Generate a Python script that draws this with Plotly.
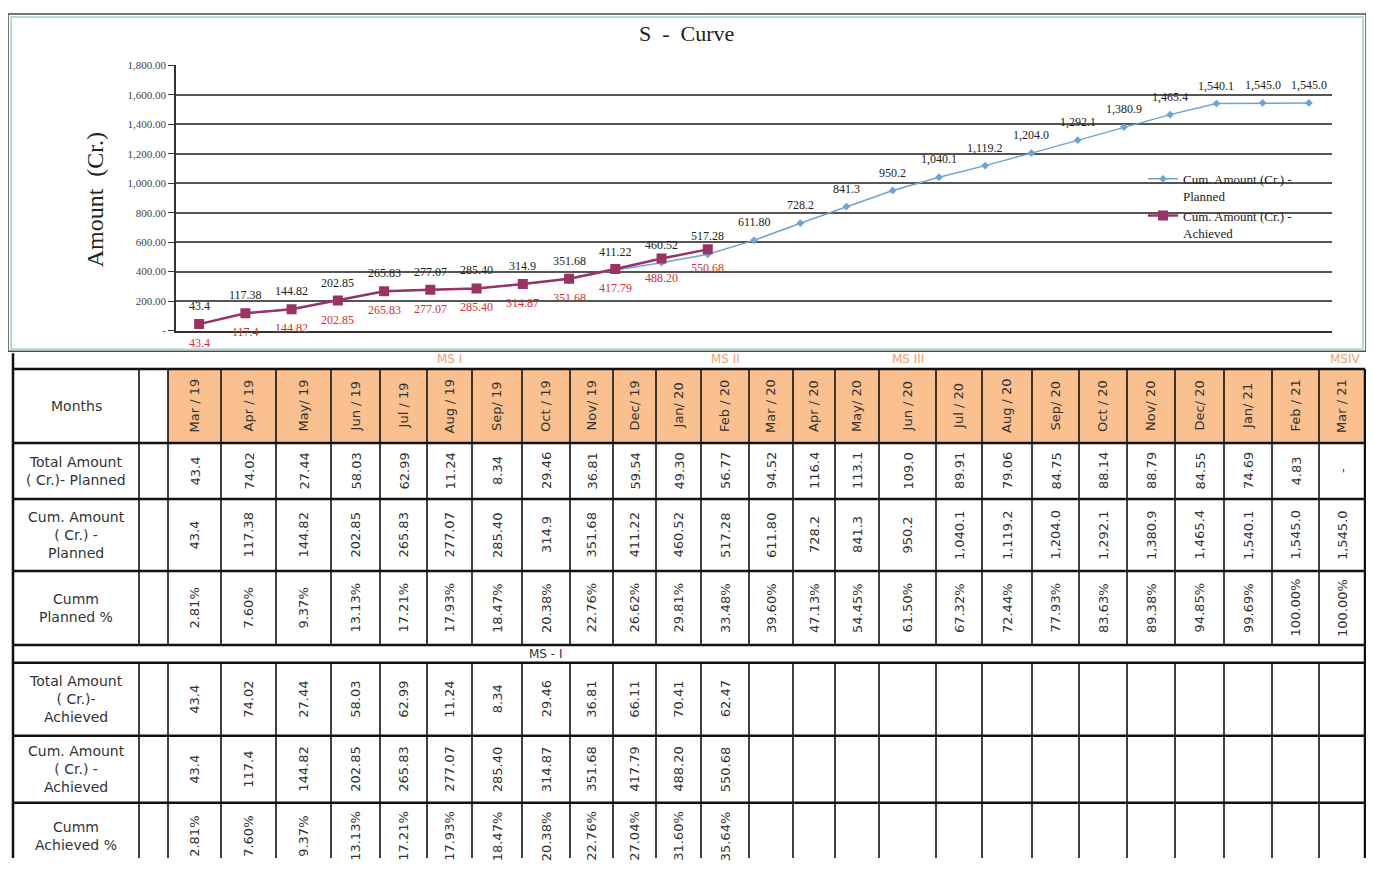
import plotly.graph_objects as go

# ---------------- data ----------------
months = ["Mar/19", "Apr/19", "May/19", "Jun/19", "Jul/19", "Aug/19", "Sep/19", "Oct/19",
          "Nov/19", "Dec/19", "Jan/20", "Feb/20", "Mar/20", "Apr/20", "May/20", "Jun/20",
          "Jul/20", "Aug/20", "Sep/20", "Oct/20", "Nov/20", "Dec/20", "Jan/21", "Feb/21", "Mar/21"]
header_labels = ["Mar / 19", "Apr / 19", "May/ 19", "Jun / 19", "Jul / 19", "Aug / 19", "Sep/ 19",
                 "Oct / 19", "Nov/ 19", "Dec/ 19", "Jan/ 20", "Feb / 20", "Mar / 20", "Apr / 20",
                 "May/ 20", "Jun / 20", "Jul / 20", "Aug / 20", "Sep/ 20", "Oct / 20", "Nov/ 20",
                 "Dec/ 20", "Jan/ 21", "Feb / 21", "Mar / 21"]

cum_planned = [43.4, 117.38, 144.82, 202.85, 265.83, 277.07, 285.40, 314.9, 351.68, 411.22,
               460.52, 517.28, 611.80, 728.2, 841.3, 950.2, 1040.1, 1119.2, 1204.0, 1292.1,
               1380.9, 1465.4, 1540.1, 1545.0, 1545.0]
cum_planned_txt = ["43.4", "117.38", "144.82", "202.85", "265.83", "277.07", "285.40", "314.9",
                   "351.68", "411.22", "460.52", "517.28", "611.80", "728.2", "841.3", "950.2",
                   "1,040.1", "1,119.2", "1,204.0", "1,292.1", "1,380.9", "1,465.4", "1,540.1",
                   "1,545.0", "1,545.0"]
total_planned_txt = ["43.4", "74.02", "27.44", "58.03", "62.99", "11.24", "8.34", "29.46", "36.81",
                     "59.54", "49.30", "56.77", "94.52", "116.4", "113.1", "109.0", "89.91", "79.06",
                     "84.75", "88.14", "88.79", "84.55", "74.69", "4.83", "-"]
cum_planned_pct = ["2.81%", "7.60%", "9.37%", "13.13%", "17.21%", "17.93%", "18.47%", "20.38%",
                   "22.76%", "26.62%", "29.81%", "33.48%", "39.60%", "47.13%", "54.45%", "61.50%",
                   "67.32%", "72.44%", "77.93%", "83.63%", "89.38%", "94.85%", "99.69%", "100.00%",
                   "100.00%"]

cum_achieved = [43.4, 117.4, 144.82, 202.85, 265.83, 277.07, 285.40, 314.87, 351.68, 417.79,
                488.20, 550.68]
cum_achieved_txt = ["43.4", "117.4", "144.82", "202.85", "265.83", "277.07", "285.40", "314.87",
                    "351.68", "417.79", "488.20", "550.68"]
total_achieved_txt = ["43.4", "74.02", "27.44", "58.03", "62.99", "11.24", "8.34", "29.46",
                      "36.81", "66.11", "70.41", "62.47"]
cum_achieved_pct = ["2.81%", "7.60%", "9.37%", "13.13%", "17.21%", "17.93%", "18.47%", "20.38%",
                    "22.76%", "27.04%", "31.60%", "35.64%"]

row_labels = ["Total Amount<br>( Cr.)- Planned", "Cum. Amount<br>( Cr.) -<br>Planned",
              "Cumm<br>Planned %", "Total Amount<br>( Cr.)-<br>Achieved",
              "Cum. Amount<br>( Cr.) -<br>Achieved", "Cumm<br>Achieved %"]
table_rows = [total_planned_txt, cum_planned_txt, cum_planned_pct,
              total_achieved_txt, cum_achieved_txt, cum_achieved_pct]

milestones = ["MS I", "MS II", "MS III", "MSIV"]
milestone_after = [5, 11, 15, 24]   # month column index the label sits over

y_ticks = [0, 200, 400, 600, 800, 1000, 1200, 1400, 1600, 1800]
y_tick_text = ["-", "200.00", "400.00", "600.00", "800.00", "1,000.00", "1,200.00",
               "1,400.00", "1,600.00", "1,800.00"]

# ---------------- layout helpers ----------------
# page body has an 8px margin; the figure fills the rest of the 1374x872 window
OX, OY = 8, 8
W, H = 1374 - 2 * OX, 872 - 2 * OY
def px(x): return (x - OX) / W
def py(y): return 1 - (y - OY) / H

SERIF = "Liberation Serif"
SANS = "DejaVu Sans"
PLAN_C = "#6FA3D6"
ACH_C = "#993366"
TXT = "#333333"

fig = go.Figure()

fig.add_trace(go.Scatter(
    x=months, y=cum_planned, mode="lines+markers",
    name="Cum. Amount (Cr.) -<br>Planned",
    line=dict(color=PLAN_C, width=1.5),
    marker=dict(symbol="diamond", size=6, color=PLAN_C),
    xaxis="x", yaxis="y"))
fig.add_trace(go.Scatter(
    x=months[:len(cum_achieved)], y=cum_achieved, mode="lines+markers",
    name="Cum. Amount (Cr.) -<br>Achieved",
    line=dict(color=ACH_C, width=2.5),
    marker=dict(symbol="square", size=10, color=ACH_C),
    xaxis="x", yaxis="y"))
# invisible trace so the table coordinate system exists
fig.add_trace(go.Scatter(x=[None], y=[None], xaxis="x2", yaxis="y2",
                         showlegend=False, hoverinfo="skip"))

annotations = []
shapes = []

# data labels on the curve
for i, m in enumerate(months):
    annotations.append(dict(x=m, y=cum_planned[i], xref="x", yref="y", text=cum_planned_txt[i],
                            showarrow=False, yshift=18, xanchor="center", yanchor="middle",
                            font=dict(family=SERIF, size=12, color="#222")))
for i in range(len(cum_achieved)):
    annotations.append(dict(x=months[i], y=cum_achieved[i], xref="x", yref="y",
                            text=cum_achieved_txt[i], showarrow=False, yshift=-19,
                            xanchor="center", yanchor="middle",
                            font=dict(family=SERIF, size=12, color="#D03030")))

# title and y title
annotations.append(dict(x=px(686), y=py(28), xref="paper", yref="paper", text="S  -  Curve",
                        xanchor="center", yanchor="middle", showarrow=False,
                        font=dict(family=SERIF, size=22, color="#222")))
annotations.append(dict(x=px(95), y=py(196), xref="paper", yref="paper", text="Amount  (Cr.)",
                        xanchor="center", yanchor="middle", textangle=-90, showarrow=False,
                        font=dict(family=SERIF, size=24, color="#222")))

# chart frame
shapes.append(dict(type="rect", xref="paper", yref="paper", x0=px(8), x1=px(1366), y0=py(8), y1=py(350),
                   line=dict(color="#4a4a4a", width=1.5), layer="below"))
shapes.append(dict(type="rect", xref="paper", yref="paper", x0=px(11), x1=px(1363), y0=py(11), y1=py(348),
                   line=dict(color="#B5D9D9", width=2), layer="below"))

# ---------------- table ----------------
col_edges = [13, 139, 168, 221, 276, 331, 380, 427, 472, 522, 570, 613, 656, 701, 749, 793,
             835, 879, 936, 982, 1032, 1079, 1127, 1175, 1224, 1272, 1319, 1365]
row_edges = [368, 443, 500, 573, 648, 666, 740, 808, 880]
month_col0 = 2

def cell_cx(c): return (col_edges[c] + col_edges[c + 1]) / 2

# header fill
shapes.append(dict(type="rect", xref="x2", yref="y2", x0=col_edges[month_col0], x1=col_edges[-1],
                   y0=row_edges[0], y1=row_edges[1], fillcolor="#FAC08F", line=dict(width=0), layer="below"))

# horizontal lines
for y in row_edges[:-1]:
    shapes.append(dict(type="line", xref="x2", yref="y2", x0=col_edges[0], x1=col_edges[-1], y0=y, y1=y,
                       line=dict(color="#111", width=2.5)))
# vertical lines
for j, x in enumerate(col_edges):
    outer = j in (0, len(col_edges) - 1)
    w = 2.5 if outer else 1.6
    if outer:
        shapes.append(dict(type="line", xref="x2", yref="y2", x0=x, x1=x, y0=352 if j == 0 else 368,
                           y1=row_edges[-1], line=dict(color="#111", width=w)))
    else:
        shapes.append(dict(type="line", xref="x2", yref="y2", x0=x, x1=x, y0=row_edges[0], y1=row_edges[4],
                           line=dict(color="#111", width=w)))
        shapes.append(dict(type="line", xref="x2", yref="y2", x0=x, x1=x, y0=row_edges[5], y1=row_edges[-1],
                           line=dict(color="#111", width=w)))

# header texts
annotations.append(dict(x=cell_cx(0), y=(row_edges[0] + row_edges[1]) / 2, xref="x2", yref="y2",
                        text="Months", showarrow=False, font=dict(family=SANS, size=14, color=TXT)))
for i, lab in enumerate(header_labels):
    annotations.append(dict(x=cell_cx(month_col0 + i), y=(row_edges[0] + row_edges[1]) / 2,
                            xref="x2", yref="y2", text=lab, textangle=-90, showarrow=False,
                            font=dict(family=SANS, size=13, color=TXT)))

# milestone labels
for lab, idx in zip(milestones, milestone_after):
    c = month_col0 + idx
    last = lab == "MSIV"
    annotations.append(dict(x=col_edges[-1] - 2 if last else cell_cx(c), y=358, xref="x2", yref="y2",
                            text=lab, xanchor="right" if last else "center", showarrow=False,
                            font=dict(family=SANS, size=12, color="#F0A070")))

annotations.append(dict(x=545, y=(row_edges[4] + row_edges[5]) / 2, xref="x2", yref="y2", text="MS - I",
                        showarrow=False, font=dict(family=SANS, size=12, color=TXT)))

# body rows
body_rows = [(row_edges[1], row_edges[2]), (row_edges[2], row_edges[3]), (row_edges[3], row_edges[4]),
             (row_edges[5], row_edges[6]), (row_edges[6], row_edges[7]), (row_edges[7], row_edges[8])]
for r, (y0, y1) in enumerate(body_rows):
    cy = (y0 + y1) / 2 if r < 5 else 842
    annotations.append(dict(x=cell_cx(0), y=cy, xref="x2", yref="y2", text=row_labels[r],
                            showarrow=False, font=dict(family=SANS, size=14, color=TXT)))
    for i, val in enumerate(table_rows[r]):
        annotations.append(dict(x=cell_cx(month_col0 + i), y=cy, xref="x2", yref="y2", text=val,
                                textangle=-90, showarrow=False,
                                font=dict(family=SANS, size=13, color=TXT)))

fig.update_layout(
    width=W, height=H, autosize=False,
    margin=dict(l=0, r=0, t=0, b=0),
    paper_bgcolor="white", plot_bgcolor="rgba(0,0,0,0)",
    showlegend=True,
    legend=dict(x=px(1143), y=py(160), xanchor="left", yanchor="top", bgcolor="rgba(0,0,0,0)",
                valign="top", font=dict(family=SERIF, size=13, color="#222"), tracegroupgap=2),
    xaxis=dict(domain=[px(176), px(1332)], type="category", categoryorder="array", categoryarray=months,
               range=[-0.5, 24.5], showticklabels=False, ticks="", showgrid=False,
               showline=True, linecolor="#333", linewidth=1.5, zeroline=False, anchor="y"),
    yaxis=dict(domain=[py(329), py(59.9)], range=[0, 1801], tickvals=y_ticks, ticktext=y_tick_text,
               showgrid=True, gridcolor="#555", gridwidth=1.5, showline=True, linecolor="#333",
               linewidth=1.5, ticks="outside", ticklen=6, tickcolor="#333", zeroline=False,
               tickfont=dict(family=SERIF, size=11, color="#444"), anchor="x"),
    xaxis2=dict(domain=[0, 1], range=[OX, OX + W], visible=False, anchor="y2"),
    yaxis2=dict(domain=[0, 1], range=[OY + H, OY], visible=False, anchor="x2"),
    annotations=annotations,
    shapes=shapes,
)

fig.write_html("out.html")
